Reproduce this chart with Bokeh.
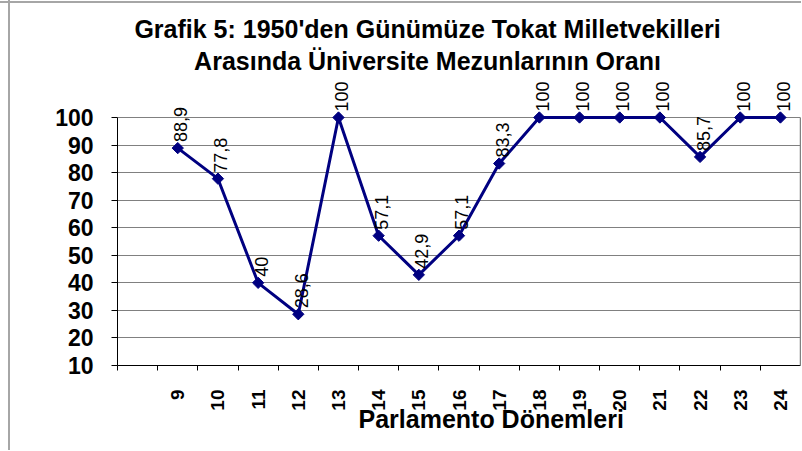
import math
from bokeh.plotting import figure
from bokeh.models import (ColumnDataSource, LabelSet, Label, FixedTicker, Range1d,
                          LinearAxis, Title)
from bokeh.core.properties import value
from bokeh.embed import file_html
from bokeh.resources import INLINE

# ---- data ----
periods = ["9", "10", "11", "12", "13", "14", "15", "16", "17", "18",
           "19", "20", "21", "22", "23", "24"]
ratios = [88.9, 77.8, 40, 28.6, 100, 57.1, 42.9, 57.1, 83.3, 100,
          100, 100, 100, 85.7, 100, 100]
y_ticks = [10, 20, 30, 40, 50, 60, 70, 80, 90, 100]
title_lines = ["Grafik 5: 1950'den Günümüze Tokat Milletvekilleri",
               "Arasında Üniversite Mezunlarının Oranı"]
x_title = "Parlamento Dönemleri"

FONT = "Liberation Sans"
NAVY = "#000080"
GRID = "#808080"
EDGE = "#a6a6a6"

idx = list(range(len(periods)))
labels = [f"{v:g}".replace(".", ",") for v in ratios]

# frame: x 117..800 px, y axis 10..100 spans 248 px; frame extended up to top of canvas
W, H = 801, 450
F_LEFT, F_RIGHT, F_BOTTOM = 117, 800, 365
px_per_unit = 248 / (y_ticks[-1] - y_ticks[0])
y_top = y_ticks[-1] + (F_BOTTOM - 248) / px_per_unit

p = figure(width=W, height=H, output_backend="svg", toolbar_location=None,
           x_range=Range1d(-1.5, len(periods) - 0.5),
           y_range=Range1d(y_ticks[0], y_top),
           min_border_left=F_LEFT, min_border_right=W - F_RIGHT, min_border_top=0,
           min_border_bottom=H - F_BOTTOM)
p.background_fill_color = None
p.border_fill_color = None
p.outline_line_color = None
# chart-area edge lines (left and top) of the original picture
p.styles = {"background": (f"linear-gradient(90deg, transparent 8px, {EDGE} 8px, {EDGE} 10px, transparent 10px), "
                           f"linear-gradient(180deg, transparent 1px, {EDGE} 1px, {EDGE} 3px, transparent 3px), white")}

# grid
p.xgrid.visible = False
p.ygrid.ticker = FixedTicker(ticks=y_ticks)
p.ygrid.grid_line_color = GRID
p.ygrid.grid_line_width = 1

# x axis
xa = p.xaxis[0]
xa.ticker = FixedTicker(ticks=idx,
                        minor_ticks=[-1.5 + k for k in range(len(periods) + 1)])
xa.major_label_overrides = {i: s for i, s in zip(idx, periods)}
xa.major_tick_out = 0
xa.major_tick_in = 0
xa.minor_tick_out = 5
xa.minor_tick_in = 0
xa.minor_tick_line_color = "black"
xa.axis_line_color = "black"
xa.major_label_orientation = math.pi / 2
xa.major_label_standoff = 19
xa.major_label_text_font = FONT
xa.major_label_text_font_style = "bold"
xa.major_label_text_font_size = "19px"
xa.major_label_text_color = "black"

# y axis
ya = p.yaxis[0]
ya.ticker = FixedTicker(ticks=y_ticks)
ya.bounds = (y_ticks[0], y_ticks[-1])
ya.major_tick_out = 6
ya.major_tick_in = 0
ya.minor_tick_out = 0
ya.minor_tick_in = 0
ya.axis_line_color = "black"
ya.major_tick_line_color = "black"
ya.major_label_standoff = 18
ya.major_label_text_font = FONT
ya.major_label_text_font_style = "bold"
ya.major_label_text_font_size = "23px"
ya.major_label_text_color = "black"

# right border of plot area
ra = LinearAxis(ticker=FixedTicker(ticks=[]), bounds=(y_ticks[0], y_ticks[-1]),
                major_tick_out=0, major_tick_in=0, minor_tick_out=0, minor_tick_in=0,
                major_label_standoff=0, axis_line_color=GRID, axis_line_width=1.5)
p.add_layout(ra, "right")

# series
src = ColumnDataSource(dict(x=idx, y=ratios, t=labels))
p.line("x", "y", source=src, line_color=NAVY, line_width=3)
p.scatter("x", "y", source=src, marker="square", angle=math.pi / 4, size=8,
          fill_color=NAVY, line_color=NAVY)

p.add_layout(LabelSet(x="x", y="y", text="t", source=src, angle=math.pi / 2,
                      text_align="left", text_baseline="middle",
                      x_offset=3, y_offset=6, text_font=value(FONT),
                      text_font_size=value("18px"), text_color=value("black")))

# chart title (inside extended frame, screen units relative to frame)
for text, yy in zip(title_lines, [F_BOTTOM - 37 + 9, F_BOTTOM - 69 + 9]):
    p.add_layout(Label(x=427 - F_LEFT, y=yy, x_units="screen", y_units="screen",
                       text=text, text_align="center", text_baseline="alphabetic",
                       text_font=FONT, text_font_style="bold",
                       text_font_size="25px", text_color="black"))

# x axis title
p.add_layout(Title(text=x_title, align="left", offset=358 - F_LEFT, standoff=-22,
                   text_font=FONT, text_font_style="bold",
                   text_font_size="25px", text_color="black"), "below")

open("out.html", "w").write(file_html(p, INLINE))
